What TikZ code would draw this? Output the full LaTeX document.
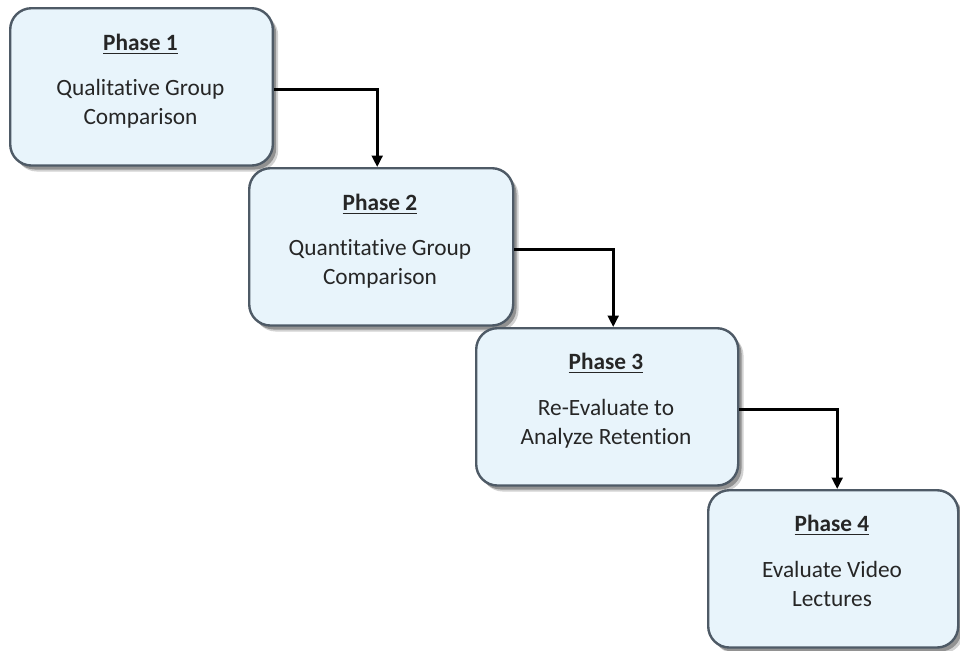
\documentclass[tikz,border=0pt]{standalone}
\usepackage{fontspec}
\setmainfont{Carlito}[Ligatures=NoCommon]
\usetikzlibrary{shadows,arrows.meta}
\definecolor{boxline}{RGB}{78,90,102}
\definecolor{boxfill}{RGB}{232,244,251}
\definecolor{txt}{RGB}{38,38,38}
\begin{document}
\begin{tikzpicture}[x=0.75pt,y=-0.75pt,
  phasebox/.style={draw=boxline, line width=1.8pt, rounded corners=16pt,
    fill=boxfill, anchor=north west, minimum height=118pt, inner sep=0pt,
    drop shadow={shadow xshift=4pt, shadow yshift=-4.5pt, opacity=0.18, fill=black},
    drop shadow={shadow xshift=2.5pt, shadow yshift=-3pt, opacity=0.3, fill=black}},
  ttl/.style={font=\fontsize{17.5pt}{21pt}\selectfont\bfseries, text=txt},
  body/.style={font=\fontsize{17.5pt}{21.75pt}\selectfont, text=txt, align=center},
  conn/.style={draw=black, line width=2pt, -{Triangle[width=8pt,length=8.5pt]}}]
\useasboundingbox (0,0) rectangle (960,650);
% boxes
\node[phasebox, minimum width=197pt] (b1) at (9,7) {};
\node[phasebox, minimum width=198pt] (b2) at (248,167) {};
\node[phasebox, minimum width=196.5pt] (b3) at (475,327) {};
\node[phasebox, minimum width=187.5pt] (b4) at (707,489) {};
% texts
\node[ttl] (t1) at (140.5,44) {\underline{Phase 1}};
\node[body] (d1) at (140.5,103.5) {Qualitative Group\\Comparison};
\node[ttl] (t2) at (380,204) {\underline{Phase 2}};
\node[body] (d2) at (380,263.5) {Quantitative Group\\Comparison};
\node[ttl] (t3) at (606,363) {\underline{Phase 3}};
\node[body] (d3) at (606,423.5) {Re-Evaluate to\\Analyze Retention};
\node[ttl] (t4) at (832,525) {\underline{Phase 4}};
\node[body] (d4) at (832,583.5) {Evaluate Video\\Lectures};
% connectors
\draw[conn] ([yshift=-2pt]b1.east) -| ([xshift=-3pt]b2.north);
\draw[conn] ([yshift=-2pt]b2.east) -| ([xshift=4.5pt]b3.north);
\draw[conn] ([yshift=-2pt]b3.east) -| ([xshift=3pt]b4.north);
\end{tikzpicture}
\end{document}
